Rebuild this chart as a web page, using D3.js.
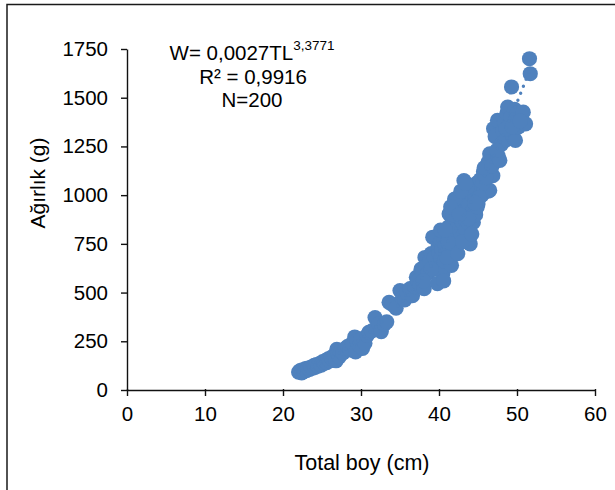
<!DOCTYPE html>
<html>
<head>
<meta charset="utf-8">
<script src="https://cdn.jsdelivr.net/npm/d3@7"></script>
<style>
  html, body { margin: 0; padding: 0; background: #fff; }
  svg { display: block; font-family: "Liberation Sans", Arial, sans-serif; }
</style>
</head>
<body>
<svg id="chart" width="615" height="490"></svg>
<script>
// total length (cm) of each fish
const totalLength = [
  22.0, 22.2, 22.4, 22.5, 22.7, 22.9, 23.0, 23.2, 23.4, 23.6, 23.8, 24.0, 24.1, 24.3, 24.5,
  24.7, 24.9, 25.1, 25.3, 25.5, 25.6, 25.8, 26.0, 26.2, 26.4, 26.6, 26.8, 26.9, 27.0, 27.2,
  27.4, 27.7, 28.0, 28.3, 28.6, 28.9, 29.2, 29.3, 29.5, 29.8, 30.0, 30.2, 30.5, 30.8, 31.0,
  31.4, 31.8, 32.0, 32.3, 32.6, 33.0, 33.3, 33.6, 34.0, 34.5, 35.0, 35.3, 35.6, 35.9, 36.3,
  36.6, 36.9, 37.1, 37.3, 37.5, 37.7, 37.9, 38.1, 38.2, 38.4, 38.6, 38.8, 39.0, 39.2, 39.4,
  39.6, 39.8, 39.9, 40.0, 40.1, 40.2, 40.3, 40.4, 40.5, 40.6, 40.7, 40.8, 40.9, 41.0, 41.1,
  41.2, 41.3, 41.4, 41.5, 41.6, 41.7, 41.8, 41.9, 42.0, 42.1, 42.2, 42.3, 42.4, 42.5, 42.6,
  42.7, 42.8, 42.9, 43.0, 43.1, 43.2, 43.3, 43.4, 43.5, 43.6, 43.7, 43.8, 43.9, 44.0, 44.1,
  44.2, 44.3, 44.4, 44.5, 44.6, 44.7, 44.8, 45.0, 45.1, 45.3, 45.5, 45.7, 45.9, 46.1, 46.3,
  46.5, 46.5, 46.7, 46.9, 40.2, 41.0, 41.8, 42.4, 43.0, 43.6, 44.2, 42.0, 41.5, 43.8, 44.9,
  40.6, 39.0, 38.0, 42.8, 43.4, 45.2, 45.6, 46.0, 46.3, 44.6, 45.8, 46.8, 42.6, 41.2, 40.8,
  47.0, 47.2, 47.3, 47.5, 47.6, 47.8, 48.0, 48.2, 48.4, 48.5, 48.7, 48.8, 49.0, 49.2, 49.3,
  49.5, 49.7, 49.8, 49.8, 50.0, 50.2, 50.5, 50.8, 51.1, 51.6, 51.7, 47.4, 48.6, 49.4, 50.4
];
// weight (g) of each fish, same order
const weight = [
    92,  100,   88,  104,   96,  110,  100,  112,  106,  118,  112,  126,  116,  130,  122,
   136,  128,  146,  138,  152,  140,  160,  150,  168,  156,  176,  150,  208,  186,  170,
   196,  190,  214,  224,  206,  240,  272,  196,  252,  228,  262,  214,  240,  280,  296,
   304,  372,  322,  340,  300,  338,  350,  450,  440,  420,  510,  470,  462,  500,  520,
   484,  530,  578,  560,  540,  620,  600,  520,  680,  640,  600,  660,  700,  784,  680,
   620,  546,  740,  700,  640,  760,  680,  720,  600,  780,  660,  740,  700,  820,  760,
   836,  904,  720,  800,  640,  860,  780,  740,  880,  820,  760,  920,  840,  800,  960,
   880,  780,  940,  860, 1000, 1075,  900,  820,  980,  920,  860, 1020,  950,  750,  880,
  1000,  920,  860, 1040,  980,  900, 1060,  955, 1010, 1080, 1000, 1120, 1050, 1140, 1020,
  1024, 1212, 1160, 1100,  820,  680,  900,  700,  760, 1040,  800,  980,  940,  880,  940,
   560,  620,  560, 1020, 1060,  990, 1060, 1090, 1170,  960, 1140, 1150,  900,  760,  820,
  1341, 1300, 1307, 1384, 1200, 1178, 1260, 1330, 1380, 1281, 1420, 1452, 1360, 1400, 1555,
  1300, 1440, 1281, 1384, 1420, 1350, 1400, 1426, 1366, 1700, 1623, 1230, 1340, 1350, 1380
];
const xTicks = [0, 10, 20, 30, 40, 50, 60];
const yTicks = [0, 250, 500, 750, 1000, 1250, 1500, 1750];
// power trendline W = a * TL^b
const trendA = 0.0027;
const trendB = 3.3771;
const trendRange = [22, 51.8];

const svg = d3.select('#chart');
const blue = '#4F81BD';

const x = d3.scaleLinear().domain([0, 60]).range([127, 595]);
const y = d3.scaleLinear().domain([0, 1750]).range([390, 49]);

// outer frame
svg.append('rect')
    .attr('x', 7).attr('y', 4.5)
    .attr('width', 700).attr('height', 600)
    .attr('fill', 'none')
    .attr('stroke', '#1a1a1a')
    .attr('stroke-width', 1.5);

// axes
const xAxis = svg.append('g')
    .attr('transform', `translate(0,${y(0)})`)
    .call(d3.axisBottom(x).tickValues(xTicks).tickFormat(d3.format('d'))
        .tickSize(6).tickSizeOuter(0).tickPadding(10));
const yAxis = svg.append('g')
    .attr('transform', `translate(${x(0)},0)`)
    .call(d3.axisLeft(y).tickValues(yTicks).tickFormat(d3.format('d'))
        .tickSize(6).tickSizeOuter(0).tickPadding(13));

[xAxis, yAxis].forEach(a => {
    a.select('.domain').attr('stroke', '#111').attr('stroke-width', 1.4);
    a.selectAll('.tick line').attr('stroke', '#111').attr('stroke-width', 1.4);
    a.selectAll('.tick text')
        .attr('fill', '#000')
        .style('font-size', '20.5px')
        .style('font-family', '"Liberation Sans", Arial, sans-serif');
});
// x tick marks cross the axis slightly
xAxis.selectAll('.tick line').attr('y1', -1);

// points
svg.append('g')
    .selectAll('circle')
    .data(totalLength.map((l, i) => ({ l, w: weight[i] })))
    .enter()
    .append('circle')
    .attr('cx', d => x(d.l))
    .attr('cy', d => y(d.w))
    .attr('r', 7.6)
    .attr('fill', blue);

// dotted power trendline
const trendX = d3.range(trendRange[0], trendRange[1] + 0.01, 0.1);
svg.append('path')
    .datum(trendX)
    .attr('d', d3.line().x(d => x(d)).y(d => y(trendA * Math.pow(d, trendB))))
    .attr('fill', 'none')
    .attr('stroke', blue)
    .attr('stroke-width', 3.4)
    .attr('stroke-linecap', 'round')
    .attr('stroke-dasharray', '0 7.5');

// equation label
const eq = svg.append('g').style('font-size', '20.5px').attr('fill', '#000');
const line1 = eq.append('text').attr('x', 252).attr('y', 60).attr('text-anchor', 'middle');
line1.append('tspan').text('W= 0,0027TL');
line1.append('tspan').attr('dy', -10).style('font-size', '13.5px').text('3,3771');
eq.append('text').attr('x', 253).attr('y', 84).attr('text-anchor', 'middle').text('R² = 0,9916');
eq.append('text').attr('x', 252).attr('y', 107).attr('text-anchor', 'middle').text('N=200');

// axis titles
svg.append('text')
    .attr('x', 362).attr('y', 470)
    .attr('text-anchor', 'middle')
    .style('font-size', '21.5px')
    .text('Total boy (cm)');
svg.append('text')
    .attr('transform', 'translate(45,183) rotate(-90)')
    .attr('text-anchor', 'middle')
    .style('font-size', '21px')
    .text('Ağırlık (g)');
</script>
</body>
</html>
